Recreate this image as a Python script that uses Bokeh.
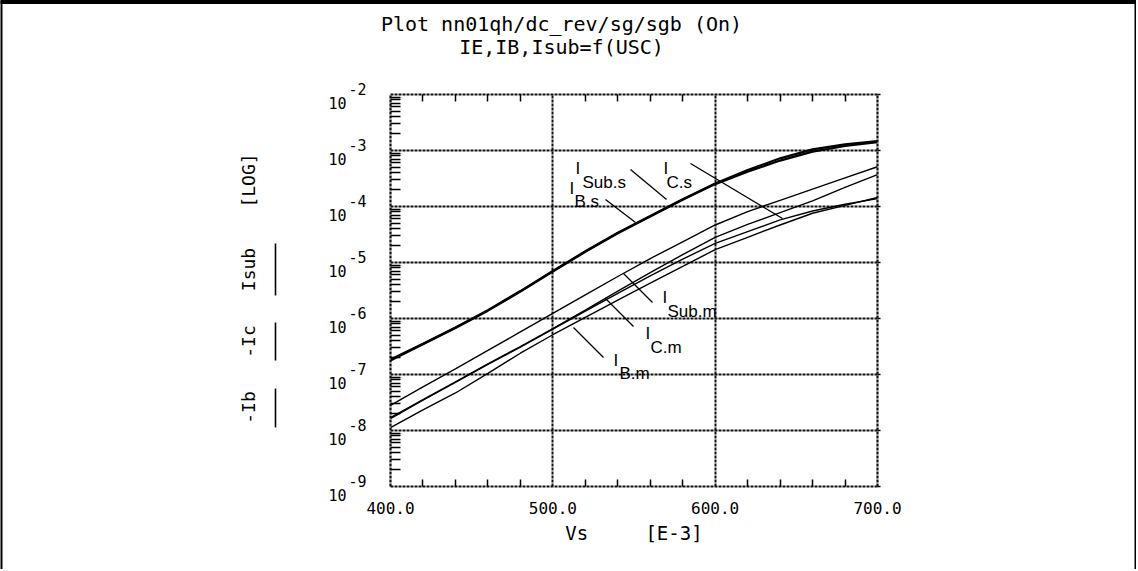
import math
from bokeh.plotting import figure
from bokeh.models import (LinearAxis, LogAxis, FixedTicker, Range1d,
                          CustomJSTickFormatter)
from bokeh.core.properties import value
from bokeh.embed import file_html
from bokeh.resources import INLINE

# ---------------- data ----------------
vs_mV = [400, 420, 440, 460, 480, 500, 520, 540, 560, 580, 600, 620, 640, 660, 680, 700]

# log10 of current [A]
log_ib_s   = [-6.75, -6.46, -6.17, -5.86, -5.52, -5.16, -4.81, -4.48, -4.18, -3.88, -3.60, -3.38, -3.18, -3.02, -2.92, -2.85]
log_isub_s = [-6.73, -6.45, -6.16, -5.85, -5.51, -5.15, -4.80, -4.47, -4.17, -3.87, -3.59, -3.35, -3.14, -2.98, -2.89, -2.83]
log_ic_s   = [-7.79, -7.46, -7.14, -6.82, -6.51, -6.19, -5.87, -5.55, -5.24, -4.94, -4.66, -4.45, -4.24, -4.08, -3.96, -3.86]
log_isub_m = [-7.55, -7.22, -6.90, -6.57, -6.24, -5.91, -5.58, -5.25, -4.93, -4.63, -4.33, -4.09, -3.89, -3.69, -3.49, -3.29]
log_ic_m   = [-7.77, -7.45, -7.13, -6.81, -6.50, -6.18, -5.85, -5.51, -5.18, -4.86, -4.55, -4.32, -4.11, -3.90, -3.66, -3.43]
log_ib_m   = [-7.95, -7.63, -7.33, -6.98, -6.62, -6.29, -5.98, -5.67, -5.37, -5.07, -4.77, -4.55, -4.33, -4.12, -3.98, -3.84]

x_major = [400, 500, 600, 700]
x_minor = [420, 440, 460, 480, 520, 540, 560, 580, 620, 640, 660, 680]
x_tick_labels = ["400.0", "500.0", "600.0", "700.0"]
y_exponents = [-2, -3, -4, -5, -6, -7, -8, -9]

label_subs = ["Sub.s", "B.s", "C.s", "Sub.m", "C.m", "B.m"]

title_lines = ["Plot nn01qh/dc_rev/sg/sgb (On)", "IE,IB,Isub=f(USC)"]
x_title = "Vs\u00a0\u00a0\u00a0\u00a0\u00a0[E-3]"
y_legend = ["-Ib", "-Ic", "Isub", "[LOG]"]

# ---------------- geometry ----------------
W, H = 1136, 569
FL, FR, FT, FB = 390, 877, 94, 486      # frame edges in picture pixels
XMIN, XMAX = 400, 700
YMINE, YMAXE = -9, -2


def px2x(px):
    return XMIN + (px - FL) * (XMAX - XMIN) / (FR - FL)


def py2y(py):
    return 10 ** (YMAXE - (py - FT) * (YMAXE - YMINE) / (FB - FT))


mono = "DejaVu Sans Mono"
sans = "Liberation Sans"

p = figure(width=W, height=H, x_range=Range1d(XMIN, XMAX),
           y_range=Range1d(10 ** YMINE, 10 ** YMAXE), y_axis_type="log",
           output_backend="svg", toolbar_location=None, title=None,
           min_border_left=FL, min_border_right=W - FR,
           min_border_top=FT, min_border_bottom=H - FB)
p.outline_line_color = None
p.background_fill_color = "white"
p.border_fill_color = "white"

grid_col = "#111111"
p.xgrid.ticker = FixedTicker(ticks=x_major[1:-1])
p.ygrid.ticker = FixedTicker(ticks=[10 ** e for e in y_exponents[1:-1]])
for g in (p.xgrid, p.ygrid):
    g.grid_line_color = grid_col
    g.grid_line_width = 2
    g.grid_line_dash = "3 1"

y_minor = [m * 10 ** e for e in y_exponents[1:] for m in range(2, 10)]
blank = CustomJSTickFormatter(code="return ''")


def style_axis(ax, minor_in):
    ax.axis_line_color = grid_col
    ax.axis_line_width = 2.2
    ax.axis_line_dash = "3 1"
    ax.major_tick_in = 0
    ax.major_tick_out = 0
    ax.minor_tick_in = minor_in
    ax.minor_tick_out = 0
    ax.minor_tick_line_color = "black"
    ax.minor_tick_line_width = 1.5


# bottom x axis
xb = p.xaxis[0]
xb.ticker = FixedTicker(ticks=x_major, minor_ticks=x_minor)
xb.major_label_overrides = {v: t for v, t in zip(x_major, x_tick_labels)}
xb.major_label_text_font = mono
xb.major_label_text_font_size = "16px"
xb.major_label_text_color = "black"
xb.major_label_standoff = 15
xb.axis_label = x_title
xb.axis_label_text_font = mono
xb.axis_label_text_font_size = "19px"
xb.axis_label_text_font_style = "normal"
xb.axis_label_text_color = "black"
xb.axis_label_standoff = 5
style_axis(xb, 7)

# top x axis
xt = LinearAxis(ticker=FixedTicker(ticks=x_major, minor_ticks=x_minor),
                formatter=blank)
style_axis(xt, 7)
p.add_layout(xt, "above")

# left y axis
yl = p.yaxis[0]
yl.ticker = FixedTicker(ticks=[10 ** e for e in y_exponents], minor_ticks=y_minor)
yl.formatter = blank
style_axis(yl, 10)

# right y axis
yr = LogAxis(ticker=FixedTicker(ticks=[10 ** e for e in y_exponents]),
             formatter=blank)
style_axis(yr, 0)
yr.major_tick_out = 3
yr.major_tick_line_color = "black"
yr.major_tick_line_width = 1.5
p.add_layout(yr, "right")

# y tick labels 10^k (drawn as texts beside the axis)
p.text(x=[XMIN] * len(y_exponents), y=[10 ** e for e in y_exponents],
       text=["10"] * len(y_exponents), x_offset=-53, y_offset=8,
       text_font=value(mono), text_font_size="15px", text_align="center",
       text_baseline="middle", text_color="black", level="overlay")
p.text(x=[XMIN] * len(y_exponents), y=[10 ** e for e in y_exponents],
       text=[str(e) for e in y_exponents], x_offset=-33, y_offset=-6,
       text_font=value(mono), text_font_size="15px", text_align="center",
       text_baseline="middle", text_color="black", level="overlay")

# ---------------- curves ----------------
def cur(lst):
    return [10 ** v for v in lst]

p.line(vs_mV, cur(log_ib_s), line_color="black", line_width=2.2)
p.line(vs_mV, cur(log_isub_s), line_color="black", line_width=2.2)
p.line(vs_mV, cur(log_ic_s), line_color="black", line_width=1.4)
p.line(vs_mV, cur(log_isub_m), line_color="black", line_width=1.4)
p.line(vs_mV, cur(log_ic_m), line_color="black", line_width=1.4)
p.line(vs_mV, cur(log_ib_m), line_color="black", line_width=1.4)

# ---------------- curve labels with leaders ----------------
i_pos = [(575, 168), (569, 188), (663, 168), (662, 297), (645, 333), (613, 360)]
s_pos = [(582, 182), (574, 201), (666, 182), (667, 311), (650, 347), (619, 373)]
leaders = [((630, 169), (666, 199)), ((605, 199), (635, 222)),
           ((690, 163), (782, 218)), ((652, 302), (623, 273)),
           ((633, 326), (605, 298)), ((603, 357), (573, 327))]

p.text(x=[px2x(a) for a, b in i_pos], y=[py2y(b) for a, b in i_pos],
       text=["I"] * len(i_pos), text_font=value(sans), text_font_size="17px",
       text_align="left", text_baseline="alphabetic", text_color="black")
p.text(x=[px2x(a) for a, b in s_pos], y=[py2y(b) for a, b in s_pos],
       text=label_subs, text_font=value(sans), text_font_size="17px",
       text_align="left", text_baseline="alphabetic", text_color="black")
p.segment(x0=[px2x(a[0]) for a, b in leaders], y0=[py2y(a[1]) for a, b in leaders],
          x1=[px2x(b[0]) for a, b in leaders], y1=[py2y(b[1]) for a, b in leaders],
          line_color="black", line_width=1.3)

# ---------------- titles ----------------
p.text(x=[px2x(561)] * 2, y=[py2y(23), py2y(46)], text=title_lines,
       text_font=value(mono), text_font_size="20px", text_align="center",
       text_baseline="middle", text_color="black", level="overlay")

# ---------------- rotated y legend ----------------
leg_centers = [407, 341, 269, 180]
p.text(x=[px2x(248)] * len(y_legend), y=[py2y(c) for c in leg_centers],
       text=y_legend, angle=math.pi / 2, text_font=value(mono),
       text_font_size="18px", text_align="center", text_baseline="middle",
       text_color="black", level="overlay")
leg_lines = [(388, 427), (322, 360), (243, 295)]
p.segment(x0=[px2x(275)] * 3, y0=[py2y(a) for a, b in leg_lines],
          x1=[px2x(275)] * 3, y1=[py2y(b) for a, b in leg_lines],
          line_color="black", line_width=1.6, level="overlay")

# ---------------- picture border ----------------
p.segment(x0=[px2x(0), px2x(1), px2x(W - 1)],
          y0=[py2y(1.5), py2y(0), py2y(0)],
          x1=[px2x(W), px2x(1), px2x(W - 1)],
          y1=[py2y(1.5), py2y(H), py2y(H)],
          line_color="black", line_width=[4, 2, 2], level="overlay")

open("out.html", "w").write(file_html(p, INLINE))
